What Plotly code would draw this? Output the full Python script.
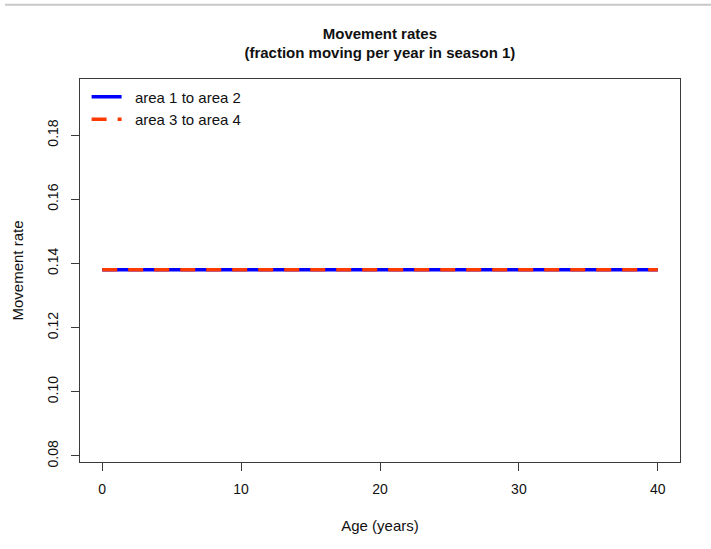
import plotly.graph_objects as go

# Movement rates by age (season 1)
ages = [0, 1, 2, 3, 4, 5, 6, 7, 8, 9, 10, 11, 12, 13, 14, 15, 16, 17, 18, 19, 20,
        21, 22, 23, 24, 25, 26, 27, 28, 29, 30, 31, 32, 33, 34, 35, 36, 37, 38, 39, 40]
rate_area1_to_area2 = [0.138, 0.138, 0.138, 0.138, 0.138, 0.138, 0.138, 0.138, 0.138, 0.138,
                       0.138, 0.138, 0.138, 0.138, 0.138, 0.138, 0.138, 0.138, 0.138, 0.138,
                       0.138, 0.138, 0.138, 0.138, 0.138, 0.138, 0.138, 0.138, 0.138, 0.138,
                       0.138, 0.138, 0.138, 0.138, 0.138, 0.138, 0.138, 0.138, 0.138, 0.138,
                       0.138]
rate_area3_to_area4 = [0.138, 0.138, 0.138, 0.138, 0.138, 0.138, 0.138, 0.138, 0.138, 0.138,
                       0.138, 0.138, 0.138, 0.138, 0.138, 0.138, 0.138, 0.138, 0.138, 0.138,
                       0.138, 0.138, 0.138, 0.138, 0.138, 0.138, 0.138, 0.138, 0.138, 0.138,
                       0.138, 0.138, 0.138, 0.138, 0.138, 0.138, 0.138, 0.138, 0.138, 0.138,
                       0.138]
series_names = ["area 1 to area 2", "area 3 to area 4"]
x_ticks = [0, 10, 20, 30, 40]
y_ticks = [0.08, 0.10, 0.12, 0.14, 0.16, 0.18]

FONT = "Liberation Sans, Arial, sans-serif"
AXIS_COLOR = "#3a3a3a"
NBSP = "\u00a0"

fig = go.Figure()
fig.add_trace(go.Scatter(
    x=ages, y=rate_area1_to_area2, name=NBSP * 2 + series_names[0], mode="lines",
    line=dict(color="#0000ff", width=3.5),
))
fig.add_trace(go.Scatter(
    x=ages, y=rate_area3_to_area4, name=NBSP * 2 + series_names[1], mode="lines",
    line=dict(color="#ff3a00", width=3.5, dash="15px,11px"),
))

axis_common = dict(
    showgrid=False, zeroline=False, showline=True, mirror=True,
    linecolor=AXIS_COLOR, linewidth=1.3,
    ticks="outside", ticklen=8, tickwidth=1.3, tickcolor=AXIS_COLOR,
    tickfont=dict(family=FONT, size=14, color="#111"),
    title_font=dict(family=FONT, size=15, color="#111"),
)

fig.update_xaxes(
    range=[-1.6, 41.6], tickvals=x_ticks, ticktext=[str(v) for v in x_ticks],
    ticklabelstandoff=6,
    title_text="Age (years)", title_standoff=24, **axis_common,
)
fig.update_yaxes(
    range=[0.0781, 0.1975], tickvals=y_ticks, ticktext=[f"{v:.2f}" for v in y_ticks],
    tickangle=-90, ticklabelstandoff=7,
    title_text="Movement rate", title_standoff=18, **axis_common,
)

fig.update_layout(
    width=711, height=549,
    margin=dict(l=80, r=31, t=79, b=87),
    paper_bgcolor="white", plot_bgcolor="white",
    font=dict(family=FONT, size=14, color="#111"),
    title=dict(
        text="<b>Movement rates</b><br><b>(fraction moving per year in season 1)</b>",
        x=0.5343, xanchor="center", y=0.929, yanchor="top",
        font=dict(family=FONT, size=15, color="#111"),
    ),
    showlegend=True,
    legend=dict(
        x=0.011, y=0.996, xanchor="left", yanchor="top",
        bgcolor="rgba(0,0,0,0)", borderwidth=0,
        font=dict(family=FONT, size=15, color="#111"),
        tracegroupgap=0, itemwidth=30,
    ),
    shapes=[dict(
        type="line", xref="paper", yref="paper",
        x0=-0.125, x1=1.06, y0=1.194, y1=1.194,
        line=dict(color="#c8c8c8", width=2),
    )],
)

fig.write_html("out.html")
